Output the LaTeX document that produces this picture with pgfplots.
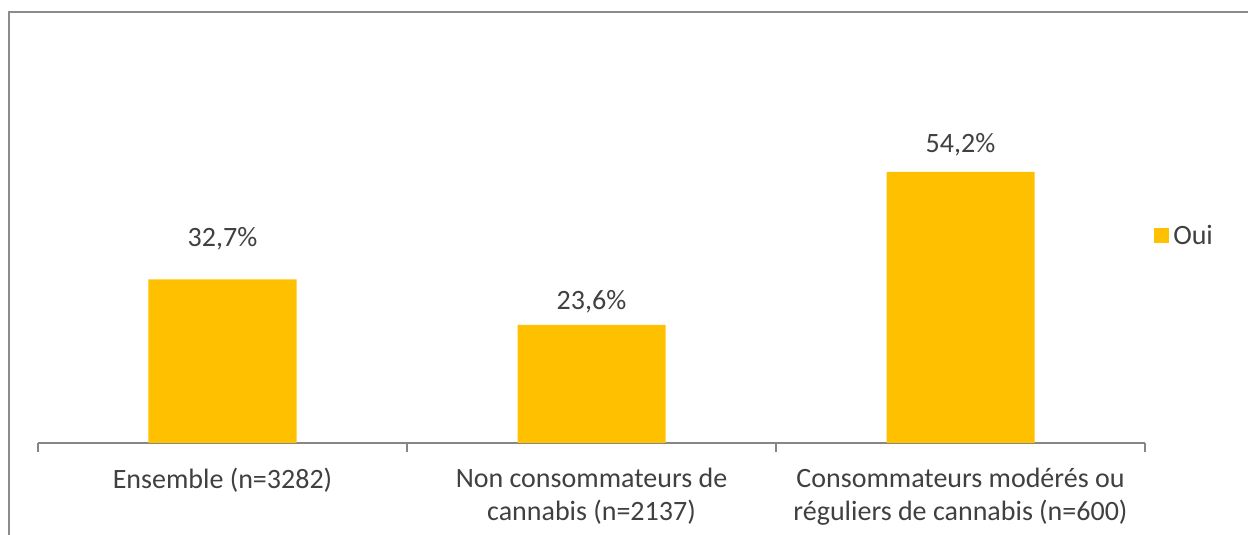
\documentclass[border=0pt]{standalone}
\usepackage{pgfplots}
\pgfplotsset{compat=1.18}
\usepackage{fontspec}
\setmainfont{Carlito}
\definecolor{barjaune}{RGB}{255,192,0}
\definecolor{texte}{RGB}{64,64,64}
\definecolor{trait}{RGB}{134,134,134}
\definecolor{cadre}{RGB}{140,140,140}
\begin{document}
\begin{tikzpicture}[font=\fontsize{14pt}{16.5pt}\selectfont, text=texte]
% cadre de la zone de graphique (1px = 0.5pt)
\useasboundingbox (-19pt,-46pt) rectangle (605pt,221.5pt);
\draw[cadre, line width=1.2pt] (-14.5pt,-50pt) -- (-14.5pt,215.5pt) -- (610pt,215.5pt);
\begin{axis}[
    at={(0,0)}, anchor=south west,
    scale only axis,
    width=553.5pt, height=150pt,
    xmin=-0.5, xmax=2.5,
    ymin=0, ymax=60,
    clip=false,
    axis x line*=bottom,
    axis y line=none,
    x axis line style={trait, line width=0.8pt},
    xtick={-0.5,0.5,1.5,2.5},
    xticklabels={},
    tick align=outside,
    major tick length=4.5pt,
    x tick style={trait, line width=0.8pt},
    extra x ticks={0,1,2},
    extra x tick labels={Ensemble (n=3282),
                 Non consommateurs de\\cannabis (n=2137),
                 Consommateurs modérés ou\\réguliers de cannabis (n=600)},
    extra x tick style={major tick length=0pt,
        xticklabel style={align=center, text=texte, yshift=-9pt}},
    legend style={at={(1.008,0.69)}, anchor=west, draw=none, fill=none,
        text=texte, inner sep=0pt},
    legend image code/.code={\fill[barjaune] (0pt,-3.75pt) rectangle (7.5pt,3.75pt);},
]
\addplot[ybar, bar width=74pt, fill=barjaune, draw=none] coordinates {
    (0,32.7) (1,23.6) (2,54.2)
};
\addlegendentry{Oui}
\node at (axis cs:0,40.8) {32,7\%};
\node at (axis cs:1,28.2) {23,6\%};
\node at (axis cs:2,59.6) {54,2\%};
\end{axis}
\end{tikzpicture}
\end{document}
